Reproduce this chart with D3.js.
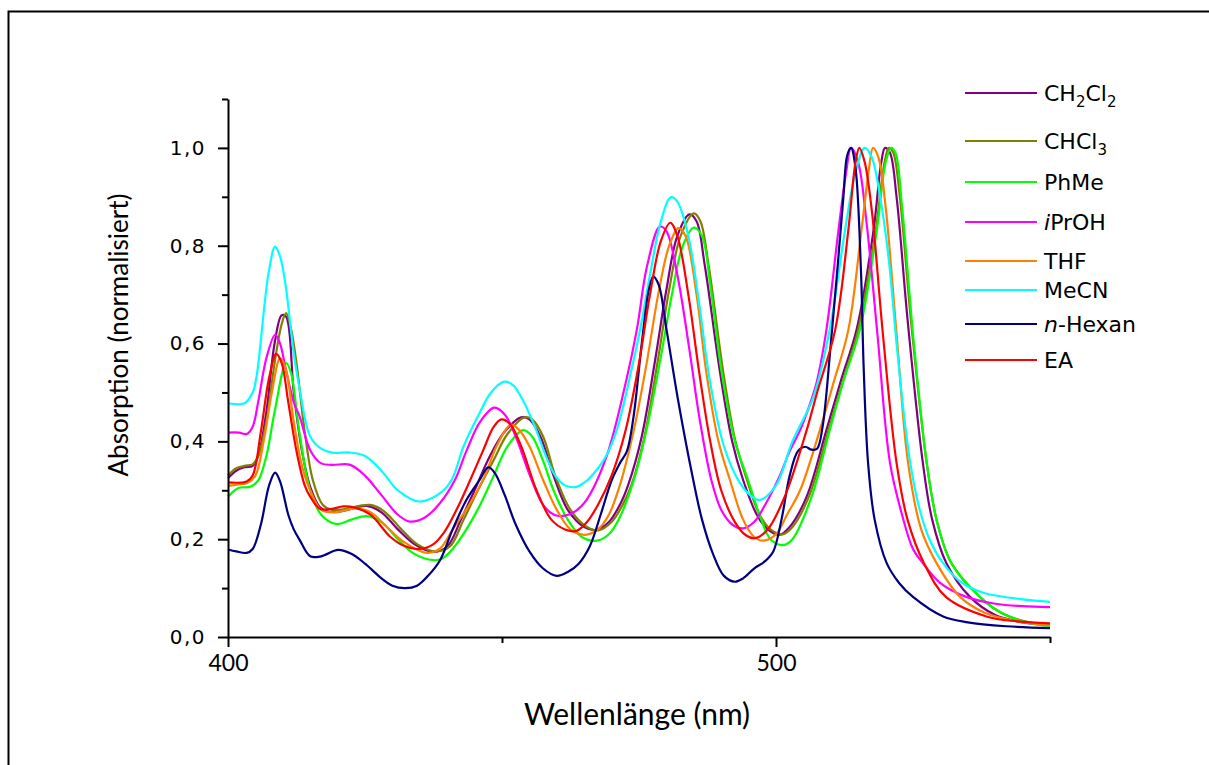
<!DOCTYPE html>
<html><head><meta charset="utf-8">
<script src="https://cdn.jsdelivr.net/npm/d3@7"></script>
<style>body{margin:0;background:#fff}svg{display:block}</style>
</head><body>
<svg id="chart" width="1209" height="765"></svg>
<script>
// ---- data (wavelength nm, normalised absorption) ----
const CH2Cl2 = [[400,0.325],[401.5,0.34],[403,0.347],[404.5,0.35],[405.5,0.37],[407,0.46],[408.5,0.6],[409.8,0.658],[410.6,0.655],[412,0.5],[413.5,0.38],[415,0.307],[416.8,0.265],[418.5,0.256],[421,0.258],[423.5,0.265],[425.3,0.268],[428,0.255],[431,0.22],[434,0.19],[437.5,0.174],[440,0.185],[442.5,0.24],[445,0.3],[447.8,0.37],[450.5,0.42],[453.5,0.449],[455,0.445],[457,0.41],[459.4,0.33],[462,0.26],[465,0.225],[467.3,0.219],[469.5,0.235],[471.5,0.27],[473,0.31],[475.5,0.41],[478,0.57],[480,0.71],[482,0.82],[484.2,0.864],[485.5,0.85],[487,0.76],[489.8,0.54],[492,0.4],[494,0.321],[496.5,0.25],[498.5,0.22],[500.7,0.209],[502.5,0.225],[505.6,0.287],[509.2,0.423],[512,0.53],[514.7,0.628],[517.8,0.832],[519.2,0.97],[519.9,1.0],[520.8,0.99],[522,0.9],[524,0.65],[526.8,0.356],[528.5,0.24],[531.1,0.151],[535.4,0.082],[540,0.045],[545,0.03],[550,0.024]];
const CHCl3 = [[400,0.33],[401.5,0.345],[403,0.35],[404.5,0.353],[405.5,0.37],[407,0.44],[408.5,0.56],[409.8,0.64],[410.6,0.662],[411.5,0.63],[412.5,0.56],[414,0.42],[415.5,0.32],[417.3,0.27],[419,0.26],[421.5,0.262],[424,0.268],[426,0.27],[428.5,0.257],[431.5,0.222],[434.5,0.19],[438,0.175],[440.5,0.185],[443,0.24],[445.6,0.3],[448.4,0.36],[451,0.415],[454.1,0.449],[455.5,0.445],[457.5,0.41],[459.7,0.33],[462.5,0.26],[465.5,0.225],[467.6,0.218],[470,0.235],[472,0.27],[473.6,0.31],[476,0.41],[478.5,0.57],[480.5,0.71],[482.6,0.82],[485,0.866],[486.2,0.85],[487.7,0.76],[490.4,0.54],[492.6,0.4],[494.7,0.321],[497,0.25],[499,0.22],[501.2,0.21],[503,0.225],[506,0.287],[509.6,0.423],[512.4,0.53],[515,0.628],[518.2,0.832],[519.8,0.97],[520.6,1.0],[521.4,0.99],[522.6,0.9],[524.6,0.65],[527.5,0.356],[529.3,0.24],[532,0.151],[537.2,0.082],[541,0.05],[545,0.033],[550,0.024]];
const PhMe = [[400,0.287],[402,0.305],[404,0.307],[405.5,0.32],[407,0.37],[408.5,0.46],[410.6,0.56],[411.5,0.54],[413,0.42],[415,0.3],[417,0.25],[419.8,0.231],[422.5,0.24],[425.3,0.247],[428,0.235],[431,0.2],[434,0.17],[437.5,0.157],[439,0.16],[441,0.18],[443.5,0.22],[446,0.27],[448.5,0.33],[451,0.39],[453.9,0.423],[455.5,0.41],[457.5,0.36],[459.4,0.3],[462,0.24],[464.5,0.205],[467.3,0.197],[469.5,0.21],[471.5,0.245],[474.3,0.33],[476.5,0.43],[479.1,0.58],[481,0.7],[483,0.8],[485,0.837],[486.5,0.82],[488,0.72],[490.1,0.54],[492.5,0.4],[494.9,0.321],[497,0.25],[499,0.2],[501.3,0.188],[503,0.2],[506.5,0.287],[509.8,0.423],[512.5,0.53],[515.3,0.628],[518.4,0.832],[520,0.97],[521,1.0],[521.8,0.99],[523,0.88],[525,0.62],[527.5,0.356],[529.5,0.23],[532,0.151],[537.2,0.082],[541,0.05],[545,0.032],[550,0.022]];
const iPrOH = [[400,0.418],[402,0.418],[403.4,0.415],[404.5,0.43],[405.5,0.48],[407,0.57],[408.6,0.618],[409.5,0.6],[410.5,0.55],[412,0.48],[413.1,0.45],[415,0.382],[417,0.355],[419,0.352],[422.3,0.352],[425,0.33],[428,0.29],[431,0.25],[433.2,0.236],[436,0.245],[438.7,0.274],[441.4,0.321],[443.5,0.38],[446,0.44],[448.6,0.469],[450.5,0.455],[452.5,0.41],[455.1,0.33],[457.5,0.27],[459.5,0.25],[461.5,0.248],[463.5,0.258],[465.4,0.28],[469.1,0.37],[472.7,0.526],[474.6,0.628],[476.5,0.76],[478.8,0.839],[480,0.83],[482,0.74],[484.3,0.58],[486,0.45],[488.2,0.321],[490,0.26],[492,0.23],[494,0.222],[496,0.235],[498,0.27],[500.7,0.33],[502.5,0.38],[504.4,0.423],[506,0.47],[507.4,0.52],[509.2,0.628],[511.4,0.832],[512.8,0.95],[513.7,1.0],[515,0.97],[516.5,0.85],[518.5,0.62],[520.8,0.356],[523,0.25],[525,0.18],[526.8,0.151],[530,0.11],[534.7,0.082],[540,0.068],[545,0.063],[550,0.061]];
const THF = [[400,0.309],[402,0.312],[403.5,0.315],[405,0.33],[406.5,0.4],[408,0.5],[409.5,0.57],[410.5,0.55],[412,0.44],[413.5,0.35],[415,0.3],[417,0.26],[419.5,0.255],[423.4,0.263],[426,0.255],[429,0.225],[432,0.195],[436.3,0.172],[438.7,0.181],[441,0.22],[444,0.27],[446.9,0.33],[449,0.39],[451.6,0.434],[453,0.425],[455,0.39],[457.5,0.321],[460,0.26],[462.5,0.22],[465.1,0.209],[467.5,0.22],[469.5,0.25],[471.5,0.31],[474,0.42],[476.4,0.56],[478.5,0.7],[480.5,0.8],[482.2,0.836],[483.5,0.82],[485.5,0.7],[487.3,0.54],[489.5,0.4],[491.6,0.321],[494,0.24],[496,0.205],[497.7,0.197],[500,0.21],[502,0.25],[504.4,0.3],[508,0.423],[510.5,0.52],[513.2,0.628],[515.6,0.832],[517,0.96],[517.7,1.0],[518.7,0.98],[520,0.88],[522,0.62],[524.1,0.356],[526.5,0.22],[529.3,0.151],[533.6,0.082],[538,0.05],[544,0.032],[550,0.025]];
const MeCN = [[400,0.478],[403,0.478],[404.5,0.5],[405.2,0.532],[407.4,0.744],[408.6,0.798],[409.5,0.778],[410.5,0.72],[412,0.58],[413.1,0.505],[415,0.41],[417,0.385],[419,0.377],[422.3,0.377],[425,0.37],[428,0.34],[431,0.3],[435,0.277],[438.7,0.294],[440.8,0.321],[443,0.39],[446,0.46],[448,0.5],[450.4,0.522],[452,0.515],[454,0.48],[456,0.43],[458,0.37],[459.7,0.33],[461.5,0.31],[463.6,0.307],[465.5,0.32],[467.3,0.342],[469,0.37],[471,0.425],[473.9,0.56],[475.2,0.628],[477,0.74],[479,0.85],[480.8,0.899],[482,0.89],[484,0.82],[486,0.68],[487.9,0.526],[490.5,0.39],[493.4,0.315],[495.5,0.288],[497,0.28],[500,0.31],[503,0.4],[506.8,0.49],[509.8,0.628],[512.6,0.832],[514.5,0.95],[516.2,1.0],[517.5,0.98],[519,0.9],[520.5,0.78],[522,0.6],[523.5,0.44],[524.5,0.356],[526,0.27],[528,0.2],[530.5,0.151],[534,0.11],[538,0.09],[545,0.077],[550,0.072]];
const nHexan = [[400,0.179],[401.5,0.175],[403.4,0.172],[404.5,0.18],[406,0.23],[407.5,0.31],[408.6,0.336],[409.5,0.318],[411,0.25],[412,0.22],[413.1,0.198],[415,0.165],[417,0.165],[420.1,0.178],[422.5,0.17],[425,0.15],[428,0.12],[430,0.105],[432.3,0.1],[434.5,0.105],[436.5,0.125],[438.7,0.157],[441,0.22],[443.5,0.28],[445.9,0.321],[447.5,0.347],[448.7,0.335],[450.5,0.29],[452.5,0.23],[455,0.175],[457.5,0.14],[460,0.125],[462,0.133],[464,0.15],[466,0.185],[468,0.25],[470,0.32],[471.5,0.355],[472.8,0.38],[474,0.45],[475.5,0.6],[476.8,0.71],[477.6,0.737],[478.6,0.72],[480,0.63],[482.2,0.48],[484.9,0.321],[486.5,0.24],[488.5,0.17],[490.5,0.125],[492.5,0.113],[494,0.12],[496,0.14],[498,0.155],[499.5,0.175],[501,0.24],[502.5,0.33],[504,0.38],[505.3,0.389],[506.5,0.383],[507.5,0.385],[508.5,0.43],[510,0.6],[511.3,0.765],[512.3,0.9],[513,0.985],[513.7,1.0],[514.5,0.96],[515.5,0.75],[516,0.55],[516.8,0.356],[518,0.24],[520.2,0.151],[522.5,0.11],[525,0.082],[530.5,0.042],[535,0.03],[542,0.022],[550,0.018]];
const EA = [[400,0.316],[403.4,0.318],[404.5,0.33],[406,0.42],[407.5,0.53],[408.8,0.579],[409.8,0.56],[411,0.48],[412.5,0.38],[414,0.31],[415,0.287],[416.8,0.262],[419,0.262],[421,0.267],[423,0.265],[426,0.25],[429.6,0.205],[432,0.187],[435,0.18],[437.5,0.19],[439.5,0.215],[441.7,0.26],[444.2,0.321],[446.5,0.38],[448.5,0.43],[449.9,0.445],[451.5,0.435],[453.5,0.39],[456.3,0.3],[459,0.24],[461.5,0.22],[463.6,0.217],[465.5,0.235],[467.5,0.27],[470,0.33],[472.5,0.42],[475,0.56],[477,0.7],[479,0.81],[480.7,0.847],[482,0.82],[484,0.7],[486,0.54],[488,0.4],[490,0.3],[492.5,0.235],[494.5,0.208],[496.2,0.202],[498.5,0.22],[501.6,0.287],[505.6,0.423],[507.5,0.5],[510.8,0.628],[513.2,0.832],[514.5,0.97],[515.2,1.0],[516.2,0.97],[517.5,0.87],[519.5,0.62],[522,0.356],[524,0.24],[527,0.151],[531,0.082],[538.4,0.042],[544,0.032],[550,0.028]];

const seriesNames = ["CH2Cl2","CHCl3","PhMe","iPrOH","THF","MeCN","n-Hexan","EA"];
const seriesData = [CH2Cl2, CHCl3, PhMe, iPrOH, THF, MeCN, nHexan, EA];
const seriesColors = ["#800080","#808000","#00ff00","#ff00ff","#ff8000","#00ffff","#000080","#ff0000"];
const yMajorTicks = [0,0.2,0.4,0.6,0.8,1.0];
const yMinorTicks = [0.1,0.3,0.5,0.7,0.9,1.1];
const xMajorTicks = [400,500];
const xMinorTicks = [450,550];

// ---- drawing ----
const svg = d3.select("#chart");
svg.append("rect").attr("x",0).attr("y",0).attr("width",1209).attr("height",765).attr("fill","#fff");
svg.append("rect").attr("x",8.5).attr("y",11.5).attr("width",1300).attr("height",900)
  .attr("fill","none").attr("stroke","#000").attr("stroke-width",2);

const x = d3.scaleLinear().domain([400,550]).range([228,1050]);
const y = d3.scaleLinear().domain([0,1.1]).range([637,99]);

const line = d3.line().x(d=>x(d[0])).y(d=>y(d[1])).curve(d3.curveCatmullRom.alpha(0.5));
seriesData.forEach((s,i)=>{
  svg.append("path").datum(s).attr("d",line).attr("fill","none")
    .attr("stroke",seriesColors[i]).attr("stroke-width",2.2).attr("stroke-linejoin","round");
});

// axes
const fmt = d=>d.toFixed(1).replace(".",",");
const yAx = svg.append("g").attr("transform","translate(228,0)")
  .call(d3.axisLeft(y).tickValues(yMajorTicks).tickSize(10).tickSizeOuter(0).tickFormat(fmt));
yAx.select(".domain").attr("stroke-width",2);
yAx.selectAll(".tick line").attr("stroke-width",2);
yAx.selectAll(".tick text").attr("font-family","'DejaVu Sans', Verdana, sans-serif")
  .attr("font-size",20).attr("fill","#000").attr("x",-22).attr("letter-spacing",1.5);
const yAxm = svg.append("g").attr("transform","translate(228,0)")
  .call(d3.axisLeft(y).tickValues(yMinorTicks).tickSize(6).tickSizeOuter(0).tickFormat(""));
yAxm.select(".domain").remove();
yAxm.selectAll(".tick line").attr("stroke-width",2);

const xAx = svg.append("g").attr("transform","translate(0,637)")
  .call(d3.axisBottom(x).tickValues(xMajorTicks).tickSize(10).tickSizeOuter(0).tickFormat(d3.format("d")));
xAx.select(".domain").attr("stroke-width",2);
xAx.selectAll(".tick line").attr("stroke-width",2);
xAx.selectAll(".tick text").attr("font-family","Lato, 'Open Sans', sans-serif")
  .attr("font-size",23).attr("fill","#000").attr("y",18);
const xAxm = svg.append("g").attr("transform","translate(0,637)")
  .call(d3.axisBottom(x).tickValues(xMinorTicks).tickSize(6).tickSizeOuter(0).tickFormat(""));
xAxm.select(".domain").remove();
xAxm.selectAll(".tick line").attr("stroke-width",2);

// titles
svg.append("text").attr("x",637).attr("y",725).attr("text-anchor","middle")
  .attr("font-family","Lato, 'Open Sans', sans-serif").attr("font-size",30).text("Wellenlänge (nm)");
svg.append("text").attr("transform","translate(128,335) rotate(-90)").attr("text-anchor","middle")
  .attr("font-family","Lato, 'Open Sans', sans-serif").attr("font-size",26).text("Absorption (normalisiert)");

// legend
const legendY = [93,141,182,222,261,290,324,360];
const lg = svg.append("g");
seriesNames.forEach((n,i)=>{
  lg.append("line").attr("x1",965).attr("x2",1037).attr("y1",legendY[i]).attr("y2",legendY[i])
    .attr("stroke",seriesColors[i]).attr("stroke-width",2.2);
  const t = lg.append("text").attr("x",1044).attr("y",legendY[i]+8)
    .attr("font-family","'DejaVu Sans', Verdana, sans-serif").attr("font-size",22).attr("fill","#000");
  if(n==="CH2Cl2"){
    t.append("tspan").text("CH");
    t.append("tspan").attr("font-size",15).attr("dy",6).text("2");
    t.append("tspan").attr("dy",-6).text("Cl");
    t.append("tspan").attr("font-size",15).attr("dy",6).text("2");
  } else if(n==="CHCl3"){
    t.append("tspan").text("CHCl");
    t.append("tspan").attr("font-size",15).attr("dy",6).text("3");
  } else if(n==="iPrOH"){
    t.append("tspan").attr("font-style","italic").text("i");
    t.append("tspan").text("PrOH");
  } else if(n==="n-Hexan"){
    t.append("tspan").attr("font-style","italic").text("n");
    t.append("tspan").text("-Hexan");
  } else {
    t.text(n);
  }
});
</script>
</body></html>
